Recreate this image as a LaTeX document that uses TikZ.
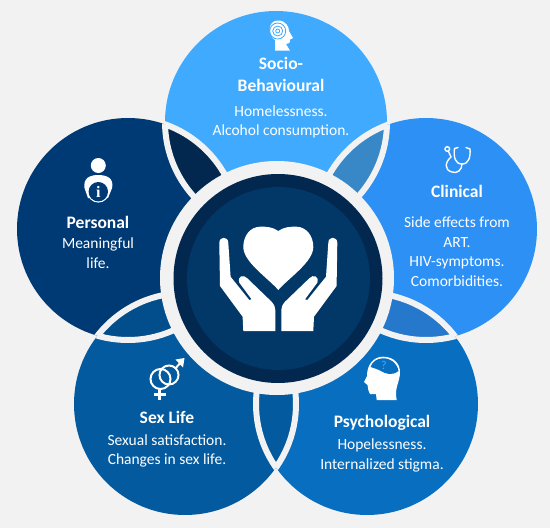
\documentclass[tikz,border=0pt]{standalone}
\usepackage{fontspec}
\setmainfont{Carlito}
\newfontfamily\iconfont{Liberation Serif}
\usetikzlibrary{positioning}
\definecolor{PageGray}{RGB}{242,242,242}
\definecolor{SocioBlue}{RGB}{64,170,255}
\definecolor{ClinicalBlue}{RGB}{45,144,245}
\definecolor{PsychBlue}{RGB}{8,110,192}
\definecolor{SexBlue}{RGB}{4,90,158}
\definecolor{PersonalBlue}{RGB}{0,58,117}
\definecolor{CoreBlue}{RGB}{1,56,103}
\definecolor{RingBlue}{RGB}{2,40,80}
\definecolor{LensTop}{RGB}{56,136,200}
\definecolor{LensRight}{RGB}{38,120,204}
\definecolor{LensLeft}{RGB}{2,78,140}
\tikzset{
  petal/.style={circle,minimum size=222pt,inner sep=0pt},
  heading/.style={font=\fontsize{17.5}{20}\selectfont\bfseries,text=white,align=center,inner sep=0pt},
  detail/.style={font=\fontsize{15.5}{19.5}\selectfont,text=white,align=center,inner sep=0pt},
  iconline/.style={draw=white,line width=1.4pt,line cap=round}
}
% one overlap between two petals
\newcommand{\lens}[5]{
  \begin{scope}
    \clip (#1,#2) circle (111);
    \fill[#5] (#3,#4) circle (111);
    \draw[PageGray,line width=6pt] (#3,#4) circle (111);
  \end{scope}
  \begin{scope}
    \clip (#3,#4) circle (111);
    \draw[PageGray,line width=6pt] (#1,#2) circle (111);
  \end{scope}
}
\begin{document}
\begin{tikzpicture}[x=1pt,y=-1pt]
  \useasboundingbox (0,0) rectangle (550,528);
  \fill[PageGray] (0,0) rectangle (550,528);
  \node[petal,fill=SocioBlue] (socio) at (276,122) {};
  \node[petal,fill=ClinicalBlue] (clinical) at (426,229) {};
  \node[petal,fill=PsychBlue] (psych) at (367,404) {};
  \node[petal,fill=SexBlue] (sex) at (185,404) {};
  \node[petal,fill=PersonalBlue] (personal) at (128,229) {};
  % overlaps
  \lens{276}{122}{128}{229}{RingBlue}
  \lens{276}{122}{426}{229}{LensTop}
  \lens{426}{229}{367}{404}{LensRight}
  \lens{367}{404}{185}{404}{SexBlue}
  \lens{185}{404}{128}{229}{LensLeft}
  % centre
  \node[circle,fill=PageGray,minimum size=234pt,inner sep=0pt] (rim) at (277,278) {};
  \node[circle,fill=RingBlue,minimum size=209pt,inner sep=0pt] (ring) at (278,278.5) {};
  \node[circle,fill=CoreBlue,minimum size=183pt,inner sep=0pt] (core) at (278.5,278.5) {};
  % heart and hands
  \fill[white] (278.3,231) .. controls (273,227) and (266,226.5) .. (260,226.7)
    .. controls (250,227) and (243.3,236) .. (243.3,247)
    .. controls (243.3,262) and (268,278) .. (278.3,290)
    .. controls (288.6,278) and (313.3,262) .. (313.3,247)
    .. controls (313.3,236) and (306.6,227) .. (296.6,226.7)
    .. controls (290.6,226.5) and (283.6,227) .. (278.3,231) -- cycle;
  \foreach \s in {1,-1}{
    \begin{scope}[shift={(278.3,0)},xscale=\s]
      \fill[white] (-59,243) .. controls (-59,236) and (-50,236) .. (-50,243)
        -- (-47.7,276.7) -- (-29,300) -- (-26.7,299.3) -- (-39,282.7)
        .. controls (-41,276) and (-35,274) .. (-31,278.3)
        -- (-6.7,301.7) .. controls (-4,305) and (-3,307) .. (-3,310)
        -- (-3,331) -- (-35,331) -- (-35.7,316.7) -- (-58.3,286) -- cycle;
    \end{scope}
  }
  % socio icon
  \fill[white] (275,50.7) -- (275,40) .. controls (268,36) and (267,20.5) .. (278,20.5)
    .. controls (286,20.5) and (289,27) .. (289,31) -- (293,38) -- (290,39.5)
    .. controls (290.5,43) and (288.5,44) .. (286,44) -- (290,50.7) -- cycle;
  \foreach \r in {8,5,2}{
    \draw[SocioBlue,line width=.8pt] (277.7,31) circle (\r);
  }
  % clinical icon
  \draw[iconline] (458,147.5) -- (454.5,148.5) .. controls (453.5,157) and (455,164) .. (462,164)
    .. controls (469,164) and (470.5,157) .. (470,149) -- (466,147.5);
  \draw[iconline] (462,164) .. controls (462,170) and (457,174) .. (452,172)
    .. controls (444,170) and (445,162) .. (451,157) -- (448.5,151.5);
  \draw[iconline] (447.3,149) circle (2.3);
  % personal icon
  \fill[white] (98.3,165.5) circle (7.5);
  \fill[white] (84.5,188) .. controls (83,178) and (90,175) .. (98.3,175)
    .. controls (106.6,175) and (114,178) .. (112.1,188) -- (108,198) -- (88,198) -- cycle;
  \fill[white] (98.3,191.7) circle (10.9);
  \fill[PersonalBlue] (98.3,191.7) circle (9.7);
  \node[text=white,inner sep=0pt,font=\iconfont\fontsize{16}{16}\selectfont\bfseries] (infoletter) at (98.3,191.5) {i};
  % sex life icon
  \draw[white,line width=2pt] (160.5,379) circle (10);
  \draw[white,line width=2pt] (169,375) circle (9.5);
  \draw[white,line width=2pt] (175.8,368) -- (182,361);
  \fill[white] (184.5,358) -- (175.5,359.5) -- (183,367.5) -- cycle;
  \draw[white,line width=2.2pt] (159.5,389) -- (159.5,399.5);
  \draw[white,line width=2.2pt] (153.5,394.5) -- (165.5,394.5);
  % psychological icon
  \fill[white] (376.7,400) -- (376,394) -- (370,394) .. controls (368,392) and (368.5,389) .. (367.5,385)
    -- (364,382) -- (367,376) .. controls (367,364) and (374,356.7) .. (383,356.7)
    .. controls (394,356.7) and (400,364) .. (400,372)
    .. controls (400,382) and (394,388) .. (396.7,400) -- cycle;
  \fill[PsychBlue] (370.5,367) .. controls (372,362) and (377,358.3) .. (383,358.3)
    .. controls (391,358.3) and (397,363) .. (398.5,371)
    .. controls (392,376) and (386,374) .. (381,371) .. controls (377,369) and (374,368) .. (370.5,367) -- cycle;
  \node[text=SocioBlue,inner sep=0pt,font=\fontsize{12}{12}\selectfont] (psychmark) at (384,365.5) {?};
  % texts
  \node[heading] (sociohead) at (281,63) {Socio-};
  \node[heading] (sociohead2) at (281,85) {Behavioural};
  \node[detail] (sociotext) at (281,122) {Homelessness.\\Alcohol consumption.};
  \node[heading] (clinicalhead) at (457,191) {Clinical};
  \node[detail] (clinicaltext) at (457,251.5) {Side effects from\\ART.\\HIV-symptoms.\\Comorbidities.};
  \node[heading] (psychhead) at (382,423) {Psychological};
  \node[detail] (psychtext) at (382,455.5) {Hopelessness.\\Internalized stigma.};
  \node[heading] (sexhead) at (167,417) {Sex Life};
  \node[detail] (sextext) at (167,451) {Sexual satisfaction.\\Changes in sex life.};
  \node[heading] (personalhead) at (98,222) {Personal};
  \node[detail] (personaltext) at (98,253) {Meaningful\\life.};
\end{tikzpicture}
\end{document}
